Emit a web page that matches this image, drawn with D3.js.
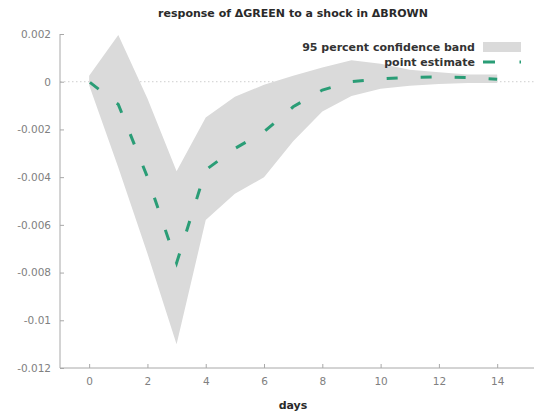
<!DOCTYPE html>
<html>
<head>
<meta charset="utf-8">
<script src="https://cdn.jsdelivr.net/npm/d3@7/dist/d3.min.js"></script>
<style>
  html, body { margin: 0; padding: 0; background: #fff; }
  svg { display: block; font-family: "DejaVu Sans", Verdana, sans-serif; }
</style>
</head>
<body>
<svg id="chart" width="534" height="416"></svg>
<script>
// ---- data ----
const days = [0, 1, 2, 3, 4, 5, 6, 7, 8, 9, 10, 11, 12, 13, 14];
const pointEstimate = [0, -0.00095, -0.0040, -0.0076, -0.0037, -0.0028, -0.0021, -0.00105, -0.00035, 0.0, 0.00012, 0.00018, 0.0002, 0.00017, 0.0001];
const bandUpper = [0.00025, 0.00196, -0.0007, -0.00375, -0.0015, -0.00063, -0.00013, 0.00025, 0.0006, 0.0009, 0.00075, 0.0005, 0.0004, 0.0003, 0.0003];
const bandLower = [-0.00015, -0.0036, -0.0072, -0.0110, -0.0058, -0.0047, -0.0040, -0.0025, -0.00125, -0.0006, -0.0003, -0.00017, -0.0001, -0.00005, -0.00005];
const xTickValues = [0, 2, 4, 6, 8, 10, 12, 14];
const yTickValues = [0.002, 0, -0.002, -0.004, -0.006, -0.008, -0.01, -0.012];
const yTickLabels = ["0.002", "0", "-0.002", "-0.004", "-0.006", "-0.008", "-0.01", "-0.012"];
const legendLabels = ["95 percent confidence band", "point estimate"];
const titleText = "response of \u0394GREEN to a shock in \u0394BROWN";
const xLabel = "days";

// ---- layout ----
const svg = d3.select("#chart");
const plotLeft = 60, plotRight = 538, plotTop = 34, plotBottom = 368;
const x = d3.scaleLinear().domain([-1, 15.4]).range([plotLeft, plotRight]);
const y = d3.scaleLinear().domain([-0.012, 0.002]).range([plotBottom, plotTop]);

const bandColor = "#dadada";
const lineColor = "#2a9d76";
const axisColor = "#a8a8a8";
const tickTextColor = "#808080";

// zero line (dotted)
svg.append("line")
  .attr("x1", plotLeft).attr("x2", 534)
  .attr("y1", y(0)).attr("y2", y(0))
  .attr("stroke", "#cfcfcf").attr("stroke-width", 1)
  .attr("stroke-dasharray", "1.5,2.5");

// band
const rows = days.map((d, i) => ({ d, lo: bandLower[i], hi: bandUpper[i], v: pointEstimate[i] }));
svg.append("path")
  .datum(rows)
  .attr("fill", bandColor)
  .attr("d", d3.area().x(r => x(r.d)).y0(r => y(r.lo)).y1(r => y(r.hi)));

// point estimate
svg.append("path")
  .datum(rows)
  .attr("fill", "none")
  .attr("stroke", lineColor)
  .attr("stroke-width", 3)
  .attr("stroke-dasharray", "11,23")
  .attr("stroke-dashoffset", -1)
  .attr("d", d3.line().x(r => x(r.d)).y(r => y(r.v)));

// axes
const yAxis = d3.axisLeft(y)
  .tickValues(yTickValues)
  .tickSize(-4)
  .tickPadding(9)
  .tickFormat((v, i) => yTickLabels[i]);
const gy = svg.append("g").attr("transform", `translate(${plotLeft},0)`).call(yAxis);

const xAxis = d3.axisBottom(x)
  .tickValues(xTickValues)
  .tickSize(-4)
  .tickPadding(10)
  .tickFormat(d3.format("d"));
const gx = svg.append("g").attr("transform", `translate(0,${plotBottom})`).call(xAxis);

[gx, gy].forEach(g => {
  g.select(".domain").attr("stroke", axisColor).attr("stroke-width", 1);
  g.selectAll(".tick line").attr("stroke", axisColor);
  g.selectAll(".tick text")
    .attr("fill", tickTextColor)
    .attr("font-size", "10.5px")
    .attr("font-family", "DejaVu Sans, sans-serif");
});
gy.select(".domain").attr("d", `M0,${plotTop}V${plotBottom}`);
gx.select(".domain").attr("d", `M${plotLeft},0H534`);

// title
svg.append("text")
  .attr("x", 293).attr("y", 17)
  .attr("text-anchor", "middle")
  .attr("font-size", "11px")
  .attr("font-weight", "bold")
  .attr("fill", "#2a2a2a")
  .text(titleText);

// x label
svg.append("text")
  .attr("x", 293).attr("y", 409)
  .attr("text-anchor", "middle")
  .attr("font-size", "11px")
  .attr("font-weight", "bold")
  .attr("fill", "#2a2a2a")
  .text(xLabel);

// legend
const legX = 475;
const leg = svg.append("g");
leg.selectAll("text")
  .data(legendLabels)
  .enter().append("text")
  .attr("x", legX)
  .attr("y", (d, i) => 51 + i * 15)
  .attr("text-anchor", "end")
  .attr("font-size", "11px")
  .attr("font-weight", "bold")
  .attr("fill", "#333")
  .text(d => d);
leg.append("rect")
  .attr("x", 483).attr("y", 42)
  .attr("width", 38).attr("height", 10)
  .attr("fill", bandColor);
leg.append("line")
  .attr("x1", 483).attr("x2", 521)
  .attr("y1", 62).attr("y2", 62)
  .attr("stroke", lineColor)
  .attr("stroke-width", 3)
  .attr("stroke-dasharray", "12,24.5");
</script>
</body>
</html>
